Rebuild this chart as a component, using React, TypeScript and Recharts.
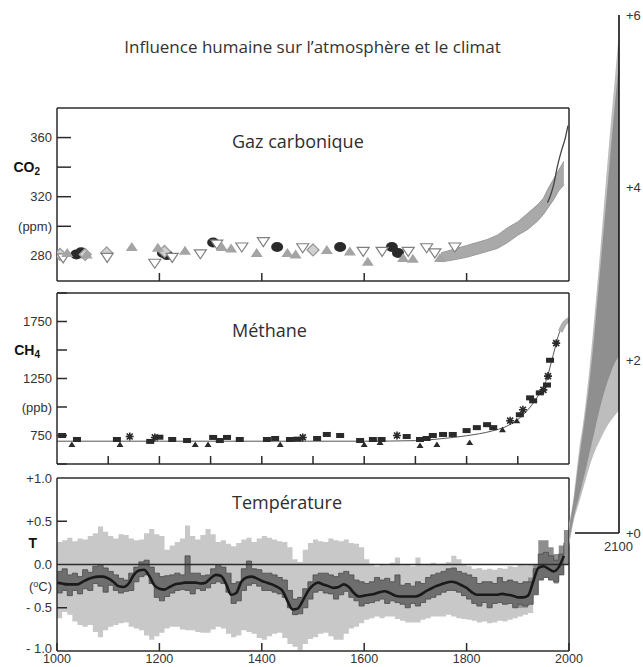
import React from 'react';
import { ComposedChart, Line, Area, Scatter, XAxis, YAxis, ReferenceLine } from 'recharts';

// ---------- CO2 panel (ppm) ----------
const co2GreyTriangles: [number, number][] = [
  [1020, 282], [1058, 281], [1146, 286], [1197, 285.5], [1250, 283.4], [1322, 286], [1340, 285],
  [1390, 282], [1450, 282], [1466, 281], [1527, 284], [1572, 283], [1607, 276], [1676, 278.6],
  [1695, 278], [1748, 278.6],
];
const co2OpenTriangles: [number, number][] = [
  [1012, 278.6], [1098, 279], [1191, 275], [1225, 279], [1280, 281.4], [1312, 288], [1361, 286],
  [1403, 289.6], [1480, 285.5], [1598, 283], [1635, 283], [1686, 283], [1722, 285.5], [1738, 282],
  [1777, 286],
];
const co2Diamonds: [number, number][] = [
  [1006, 281], [1055, 281], [1097, 282], [1210, 283], [1500, 284],
];
const co2DarkBlobs: [number, number][] = [
  [1038, 281], [1047, 282.5], [1207, 282], [1215, 280.5], [1305, 289], [1430, 286], [1553, 286],
  [1654, 286], [1666, 282],
];
const co2BandYears = [1750, 1770, 1800, 1820, 1840, 1860, 1880, 1900, 1920, 1940, 1950, 1960, 1970, 1980, 1990];
const co2BandLow = [276, 277, 279, 281, 283, 285, 289, 294, 298, 304, 308, 313, 318, 324, 328];
const co2BandHigh = [282, 284, 287, 289, 291, 294, 299, 303, 309, 315, 319, 326, 332, 338, 344];
const co2LineYears = [1958, 1965, 1970, 1977, 1986, 1993, 1998];
const co2LineValues = [316, 322, 328, 340, 352, 360, 368];

// ---------- Methane panel (ppb) ----------
const ch4LineYears = [1000, 1200, 1400, 1600, 1700, 1750, 1800, 1850, 1875, 1900, 1918, 1937, 1957, 1969, 1982, 1992, 2000];
const ch4LineValues = [700, 700, 700, 700, 705, 722, 748, 790, 825, 890, 967, 1080, 1254, 1454, 1663, 1750, 1770];
const ch4Instrumental: [number, number][] = [[1983, 1660], [1990, 1725], [1995, 1750], [2000, 1768]];
const ch4Squares: [number, number][] = [
  [1010, 750], [1039, 715], [1117, 715], [1182, 698], [1200, 735], [1225, 715], [1254, 706], [1305, 733],
  [1318, 706], [1332, 733], [1357, 715], [1410, 715], [1426, 724], [1455, 715], [1470, 718], [1508, 724],
  [1527, 759], [1553, 750], [1592, 706], [1617, 715], [1634, 715], [1683, 741], [1709, 715], [1722, 724],
  [1734, 750], [1754, 759], [1773, 759], [1800, 793], [1820, 819], [1840, 845], [1852, 819], [1904, 932],
  [1924, 1080], [1930, 1054], [1943, 1124], [1957, 1193], [1963, 1410],
];
const ch4Triangles: [number, number][] = [
  [1029, 672], [1123, 672], [1270, 672], [1295, 672], [1436, 672], [1600, 672], [1631, 689],
  [1709, 663], [1742, 672], [1806, 689], [1870, 800], [1898, 880],
];
const ch4Stars: [number, number][] = [
  [1142, 741], [1191, 733], [1480, 733], [1664, 750], [1885, 880], [1910, 976], [1950, 1150],
  [1959, 1271], [1975, 1560],
];

// ---------- Temperature panel (°C), one value per decade from 1000 ----------
const tempSmooth = [
  -0.21, -0.22, -0.23, -0.23, -0.23, -0.2, -0.17, -0.15, -0.14, -0.14,
  -0.16, -0.2, -0.25, -0.26, -0.22, -0.12, -0.07, -0.06, -0.13, -0.24,
  -0.28, -0.29, -0.26, -0.23, -0.22, -0.21, -0.21, -0.21, -0.22, -0.21,
  -0.16, -0.12, -0.13, -0.22, -0.35, -0.33, -0.2, -0.15, -0.14, -0.16,
  -0.19, -0.21, -0.23, -0.26, -0.3, -0.42, -0.52, -0.51, -0.42, -0.31,
  -0.24, -0.21, -0.23, -0.25, -0.27, -0.26, -0.23, -0.26, -0.33, -0.37,
  -0.36, -0.35, -0.34, -0.32, -0.31, -0.33, -0.36, -0.37, -0.37, -0.37,
  -0.37, -0.35, -0.31, -0.28, -0.25, -0.23, -0.21, -0.2, -0.21, -0.24,
  -0.27, -0.32, -0.35, -0.35, -0.35, -0.35, -0.35, -0.34, -0.35, -0.36,
  -0.38, -0.38, -0.36, -0.2, -0.04, -0.02, -0.05, -0.08, -0.03, 0.1,
];
const tempAnnualHigh = [
  -0.08, -0.05, -0.12, -0.1, -0.14, -0.06, -0.09, -0.02, 0.0, -0.04,
  -0.08, -0.12, -0.16, -0.18, -0.1, -0.03, 0.03, 0.05, -0.03, -0.1,
  -0.14, -0.13, -0.12, -0.1, -0.12, 0.1, -0.1, -0.1, -0.13, -0.12,
  -0.05, 0.0, -0.03, -0.1, -0.22, -0.2, -0.05, 0.04, -0.05, -0.06,
  -0.1, -0.1, -0.12, -0.15, -0.18, -0.3, -0.4, -0.38, -0.28, -0.2,
  -0.12, -0.1, -0.1, -0.12, -0.14, -0.1, -0.08, -0.12, -0.18, -0.2,
  -0.22, -0.2, -0.15, -0.18, -0.16, -0.2, -0.12, -0.24, -0.22, -0.25,
  -0.2, -0.22, -0.15, -0.12, -0.1, -0.08, -0.05, -0.04, -0.08, -0.1,
  -0.12, -0.15, -0.22, -0.2, -0.2, -0.22, -0.15, -0.2, -0.18, -0.2,
  -0.22, -0.2, -0.2, -0.05, 0.12, 0.14, 0.1, 0.05, 0.12, 0.25,
];
const tempAnnualLow = [
  -0.33, -0.3, -0.36, -0.3, -0.34, -0.28, -0.3, -0.22, -0.25, -0.32,
  -0.24, -0.3, -0.33, -0.31, -0.3, -0.2, -0.14, -0.12, -0.22, -0.38,
  -0.42, -0.37, -0.33, -0.3, -0.29, -0.3, -0.34, -0.28, -0.3, -0.27,
  -0.22, -0.2, -0.22, -0.32, -0.45, -0.42, -0.3, -0.24, -0.22, -0.25,
  -0.3, -0.3, -0.32, -0.34, -0.38, -0.5, -0.58, -0.57, -0.5, -0.4,
  -0.32, -0.3, -0.33, -0.34, -0.4, -0.35, -0.31, -0.38, -0.42, -0.48,
  -0.45, -0.44, -0.42, -0.4, -0.45, -0.42, -0.44, -0.46, -0.5, -0.45,
  -0.48, -0.44, -0.4, -0.38, -0.35, -0.32, -0.3, -0.3, -0.32, -0.36,
  -0.4, -0.45, -0.48, -0.44, -0.5, -0.45, -0.44, -0.46, -0.45, -0.5,
  -0.46, -0.48, -0.46, -0.35, -0.18, -0.15, -0.18, -0.2, -0.12, 0.0,
];
const tempUncertHigh = [
  0.26, 0.28, 0.31, 0.27, 0.3, 0.29, 0.33, 0.36, 0.44, 0.38,
  0.33, 0.3, 0.35, 0.34, 0.3, 0.28, 0.29, 0.36, 0.41, 0.35,
  0.33, 0.17, 0.22, 0.26, 0.3, 0.45, 0.33, 0.29, 0.34, 0.41,
  0.35, 0.26, 0.28, 0.24, 0.21, 0.25, 0.29, 0.31, 0.26, 0.3,
  0.33, 0.31, 0.29, 0.27, 0.26, 0.2, 0.06, 0.03, 0.17, 0.25,
  0.29, 0.27, 0.26, 0.3, 0.28, 0.27, 0.29, 0.25, 0.24, 0.2,
  0.06, 0.01, -0.02, 0.0, -0.01, 0.02, 0.08, -0.01, 0.0, -0.02,
  0.08, -0.01, 0.0, 0.02, 0.0, 0.01, 0.03, 0.1, 0.06, 0.0,
  -0.02, -0.05, -0.04, -0.06, -0.05, -0.06, -0.04, -0.05, -0.02, -0.03,
  0.0, -0.01, 0.0, 0.05,
];
const tempUncertLow = [
  -0.62, -0.55, -0.58, -0.66, -0.7, -0.72, -0.7, -0.78, -0.84, -0.76,
  -0.72, -0.7, -0.68, -0.67, -0.72, -0.74, -0.76, -0.82, -0.87, -0.83,
  -0.79, -0.74, -0.72, -0.72, -0.75, -0.76, -0.76, -0.78, -0.79, -0.79,
  -0.75, -0.72, -0.74, -0.8, -0.84, -0.82, -0.76, -0.78, -0.8, -0.85,
  -0.87, -0.83, -0.8, -0.79, -0.85, -0.92, -0.95, -0.99, -0.92, -0.86,
  -0.84, -0.8, -0.79, -0.83, -0.87, -0.87, -0.8, -0.74, -0.72, -0.68,
  -0.64, -0.62, -0.6, -0.62, -0.6, -0.6, -0.63, -0.65, -0.67, -0.67,
  -0.67, -0.64, -0.62, -0.6, -0.6, -0.6, -0.58, -0.6, -0.62, -0.63,
  -0.64, -0.65, -0.67, -0.66, -0.68, -0.67, -0.65, -0.66, -0.64, -0.62,
  -0.6, -0.58, -0.56, -0.5,
];
const instYears = [1900, 1910, 1920, 1930, 1940, 1950, 1960, 1970, 1980, 1990, 2000];
const instLow = [-0.5, -0.5, -0.45, -0.32, -0.12, -0.12, -0.18, -0.22, -0.1, 0.0, 0.2];
const instHigh = [-0.25, -0.22, -0.15, 0.0, 0.28, 0.28, 0.2, 0.12, 0.22, 0.4, 0.6];

// ---------- Projection to 2100 (°C above present) ----------
const projYears = [2000, 2010, 2020, 2030, 2040, 2050, 2060, 2070, 2080, 2090, 2100];
const projOuterLow = [-0.15, 0.15, 0.35, 0.55, 0.75, 0.92, 1.05, 1.17, 1.27, 1.35, 1.42];
const projOuterHigh = [0.1, 0.45, 0.95, 1.35, 1.85, 2.45, 3.1, 3.8, 4.5, 5.15, 5.8];
const projInnerLow = [-0.1, 0.2, 0.42, 0.65, 0.9, 1.15, 1.4, 1.62, 1.8, 1.95, 2.05];
const projInnerHigh = [0.05, 0.4, 0.85, 1.25, 1.7, 2.25, 2.9, 3.55, 4.2, 4.85, 5.45];

const yearTicks = [1000, 1200, 1400, 1600, 1800, 2000];

const INK = '#2b2b2b';
const LABEL_FONT = '"Liberation Sans", Arial, sans-serif';
const TITLE_FONT = '"Open Sans", "Noto Sans", sans-serif';

const pts = (arr: [number, number][]) => arr.map(([year, v]) => ({ year, v }));
const series = (years: number[], vals: number[]) => years.map((year, i) => ({ year, v: vals[i] }));
const band = (years: number[], lo: number[], hi: number[]) => years.map((year, i) => ({ year, r: [lo[i], hi[i]] }));
const decades = (vals: number[]) => vals.map((_, i) => 1000 + i * 10);

// marker glyphs
const TriUp = (p: any) => (
  <path d={`M${p.cx},${p.cy - 5} L${p.cx + 6},${p.cy + 4} L${p.cx - 6},${p.cy + 4} Z`} fill="#a4a4a4" />
);
const TriDownOpen = (p: any) => (
  <path d={`M${p.cx - 6},${p.cy - 4} L${p.cx + 6},${p.cy - 4} L${p.cx},${p.cy + 5} Z`} fill="#fff" stroke="#808080" strokeWidth={1.2} />
);
const Diamond = (p: any) => (
  <path d={`M${p.cx},${p.cy - 6} L${p.cx + 6},${p.cy} L${p.cx},${p.cy + 6} L${p.cx - 6},${p.cy} Z`} fill="#d0d0d0" stroke="#999" strokeWidth={1.3} />
);
const Blob = (p: any) => <ellipse cx={p.cx} cy={p.cy} rx={6} ry={5} fill="#2a2a2a" />;
const SmallSquare = (p: any) => <rect x={p.cx - 4} y={p.cy - 2.5} width={8} height={5} fill="#2a2a2a" />;
const SmallTri = (p: any) => (
  <path d={`M${p.cx},${p.cy - 3} L${p.cx + 3.5},${p.cy + 2.5} L${p.cx - 3.5},${p.cy + 2.5} Z`} fill="#2a2a2a" />
);
const Star = (p: any) => (
  <path
    d={`M${p.cx - 4},${p.cy} L${p.cx + 4},${p.cy} M${p.cx},${p.cy - 4} L${p.cx},${p.cy + 4} M${p.cx - 3},${p.cy - 3} L${p.cx + 3},${p.cy + 3} M${p.cx - 3},${p.cy + 3} L${p.cx + 3},${p.cy - 3}`}
    stroke="#2a2a2a"
    strokeWidth={1.6}
  />
);

const labelStyle = { fontFamily: LABEL_FONT, fontSize: 13, fill: '#333' };
const noLabel = () => <g />;

const co2Tick = (props: any) => {
  const { x, y, payload } = props;
  const v = payload.value;
  if (v === 340)
    return (
      <text x={x - 12} y={y} dy="0.35em" textAnchor="end" {...labelStyle} fontWeight="bold" fontSize={14} fill="#111">
        CO<tspan dy={3} fontSize={10}>2</tspan>
      </text>
    );
  const label = v === 300 ? '(ppm)' : String(v);
  return (
    <text x={x} y={y} dy="0.35em" textAnchor="end" {...labelStyle}>
      {label}
    </text>
  );
};

const ch4Tick = (props: any) => {
  const { x, y, payload } = props;
  const v = payload.value;
  if (v === 1500)
    return (
      <text x={x - 12} y={y} dy="0.35em" textAnchor="end" {...labelStyle} fontWeight="bold" fontSize={14} fill="#111">
        CH<tspan dy={3} fontSize={10}>4</tspan>
      </text>
    );
  const label = v === 1000 ? '(ppb)' : String(v);
  return (
    <text x={x} y={y} dy="0.35em" textAnchor="end" {...labelStyle}>
      {label}
    </text>
  );
};

const tempTick = (props: any) => {
  const { x, y, payload } = props;
  const v = payload.value;
  if (v === 0.25)
    return (
      <text x={x - 15} y={y} dy="0.35em" textAnchor="end" {...labelStyle} fontWeight="bold" fontSize={14} fill="#111">
        T
      </text>
    );
  if (v === -0.25)
    return (
      <text x={x} y={y} dy="0.35em" textAnchor="end" {...labelStyle}>
        (<tspan dy={-4} fontSize={9}>o</tspan>
        <tspan dy={4}>C)</tspan>
      </text>
    );
  const label = v > 0 ? `+${v.toFixed(1)}` : v < 0 ? `- ${Math.abs(v).toFixed(1)}` : '0.0';
  // the bottom label sits a little higher so it clears the year below
  const lift = v === -1 ? -3 : 0;
  return (
    <text x={x} y={y + lift} dy="0.35em" textAnchor="end" {...labelStyle}>
      {label}
    </text>
  );
};

// the bottom axis is mirrored (inward ticks), so the year label is pushed below the frame
const BOTTOM_TICK = 8;
const BOTTOM_MARGIN = 2;
const yearTickBelow = (props: any) => {
  const { x, y, payload } = props;
  if (!yearTicks.includes(payload.value)) return <g />;
  return (
    <text x={x} y={y + BOTTOM_TICK + BOTTOM_MARGIN + 8} dy="0.35em" textAnchor="middle" {...labelStyle} fontSize={12.5}>
      {payload.value}
    </text>
  );
};

const projTick = (props: any) => {
  const { x, y, payload } = props;
  return (
    <text x={x} y={y} dy="0.35em" textAnchor="start" {...labelStyle}>
      {`+${payload.value}`}
    </text>
  );
};

const frameLine = { stroke: INK, strokeWidth: 1.5 };

// shared frame: inward ticks on all four sides plus a label axis on the left
function frameAxes(
  domain: [number, number], xTicks: number[], yTicks: number[], yLabelTicks: number[], tick: any, ySize: number,
  bottomTicks: number[] = xTicks, bottomTick: any = noLabel,
) {
  return [
    <XAxis key="xb" xAxisId="x" dataKey="year" type="number" domain={[1000, 2000]} allowDataOverflow orientation="bottom" mirror
      ticks={bottomTicks} interval={0} tick={bottomTick} tickSize={BOTTOM_TICK} tickMargin={BOTTOM_MARGIN} tickLine={frameLine} axisLine={frameLine} />,
    <XAxis key="xt" xAxisId="xt" type="number" domain={[1000, 2000]} allowDataOverflow orientation="top" mirror
      ticks={xTicks} interval={0} tick={noLabel} tickSize={9} tickLine={frameLine} axisLine={frameLine} />,
    <YAxis key="y" yAxisId="y" type="number" domain={domain} allowDataOverflow orientation="left" mirror
      ticks={yTicks} interval={0} tick={noLabel} tickSize={ySize} tickLine={frameLine} axisLine={frameLine} />,
    <YAxis key="yr" yAxisId="yr" type="number" domain={domain} allowDataOverflow orientation="right" mirror
      tick={false} tickLine={false} axisLine={frameLine} />,
    <YAxis key="yl" yAxisId="yl" type="number" domain={domain} allowDataOverflow orientation="left" width={50}
      ticks={yLabelTicks} interval={0} tick={tick} tickLine={false} axisLine={false} tickSize={0} tickMargin={5} />,
  ];
}

const abs = (top: number): React.CSSProperties => ({ position: 'absolute', left: 0, top });
const titleStyle = (top: number): React.CSSProperties => ({
  position: 'absolute', left: 232, top, fontFamily: TITLE_FONT, fontSize: 18, lineHeight: 1, color: '#2e2e2e', whiteSpace: 'nowrap',
});

export default function App() {
  const tYears = decades(tempSmooth);
  const uYears = decades(tempUncertHigh);
  return (
    <div style={{ position: 'absolute', left: 0, top: 0, width: 643, height: 667, background: '#fff', overflow: 'hidden' }}>
      <div style={{ position: 'absolute', left: 0, top: 38, width: 625, textAlign: 'center', fontFamily: TITLE_FONT, fontSize: 17, lineHeight: 1, color: '#333' }}>
        Influence humaine sur l’atmosphère et le climat
      </div>

      {/* CO2 */}
      <div style={abs(100)}>
        <ComposedChart width={643} height={190} margin={{ top: 8, right: 74, bottom: 9, left: 7 }}>
          {frameAxes([263, 380], [1200, 1400, 1600, 1800], [280, 300, 320, 340, 360], [280, 300, 320, 340, 360], co2Tick, 14)}
          <Area xAxisId="x" yAxisId="y" data={band(co2BandYears, co2BandLow, co2BandHigh)} dataKey="r" type="linear"
            stroke="#9a9a9a" strokeWidth={1} fill="#a9a9a9" fillOpacity={1} isAnimationActive={false} />
          <Line xAxisId="x" yAxisId="y" data={series(co2LineYears, co2LineValues)} dataKey="v" type="monotone"
            stroke="#444" strokeWidth={1.3} dot={false} isAnimationActive={false} />
          <Scatter xAxisId="x" yAxisId="y" data={pts(co2DarkBlobs)} dataKey="v" shape={Blob} isAnimationActive={false} />
          <Scatter xAxisId="x" yAxisId="y" data={pts(co2Diamonds)} dataKey="v" shape={Diamond} isAnimationActive={false} />
          <Scatter xAxisId="x" yAxisId="y" data={pts(co2OpenTriangles)} dataKey="v" shape={TriDownOpen} isAnimationActive={false} />
          <Scatter xAxisId="x" yAxisId="y" data={pts(co2GreyTriangles)} dataKey="v" shape={TriUp} isAnimationActive={false} />
        </ComposedChart>
      </div>
      <div style={titleStyle(132)}>Gaz carbonique</div>

      {/* Methane */}
      <div style={abs(285)}>
        <ComposedChart width={643} height={190} margin={{ top: 8, right: 74, bottom: 11, left: 7 }}>
          {frameAxes([500, 2000], [1100, 1200, 1300, 1400, 1500, 1600, 1700, 1800, 1900], [500, 750, 1000, 1250, 1500, 1750, 2000],
            [750, 1000, 1250, 1500, 1750], ch4Tick, 10)}
          <Line xAxisId="x" yAxisId="y" data={series(ch4LineYears, ch4LineValues)} dataKey="v" type="monotone"
            stroke="#555" strokeWidth={1} dot={false} isAnimationActive={false} />
          <Line xAxisId="x" yAxisId="y" data={pts(ch4Instrumental)} dataKey="v" type="monotone"
            stroke="#b0b0b0" strokeWidth={5} dot={false} isAnimationActive={false} />
          <Scatter xAxisId="x" yAxisId="y" data={pts(ch4Squares)} dataKey="v" shape={SmallSquare} isAnimationActive={false} />
          <Scatter xAxisId="x" yAxisId="y" data={pts(ch4Triangles)} dataKey="v" shape={SmallTri} isAnimationActive={false} />
          <Scatter xAxisId="x" yAxisId="y" data={pts(ch4Stars)} dataKey="v" shape={Star} isAnimationActive={false} />
        </ComposedChart>
      </div>
      <div style={titleStyle(321)}>Méthane</div>

      {/* Temperature */}
      <div style={abs(470)}>
        <ComposedChart width={643} height={197} margin={{ top: 8, right: 74, bottom: 16, left: 7 }}>
          {frameAxes([-1, 1], [1200, 1400, 1600, 1800], [-0.5, 0.5], [-1, -0.5, -0.25, 0, 0.25, 0.5, 1], tempTick, 10,
            yearTicks, yearTickBelow)}
          <Area xAxisId="x" yAxisId="y" data={band(uYears, tempUncertLow, tempUncertHigh)} dataKey="r" type="stepAfter"
            stroke="none" fill="#c8c8c8" fillOpacity={1} isAnimationActive={false} />
          <Area xAxisId="x" yAxisId="y" data={band(instYears, instLow, instHigh)} dataKey="r" type="stepAfter"
            stroke="none" fill="#8e8e8e" fillOpacity={1} isAnimationActive={false} />
          <Area xAxisId="x" yAxisId="y" data={band(tYears, tempAnnualLow, tempAnnualHigh)} dataKey="r" type="stepAfter"
            stroke="#4a4a4a" strokeWidth={0.8} fill="#6e6e6e" fillOpacity={1} isAnimationActive={false} />
          <ReferenceLine xAxisId="x" yAxisId="y" y={0} stroke={INK} strokeWidth={1.3} />
          <Line xAxisId="x" yAxisId="y" data={series(tYears, tempSmooth)} dataKey="v" type="monotone"
            stroke="#1a1a1a" strokeWidth={2.6} dot={false} isAnimationActive={false} />
        </ComposedChart>
      </div>
      <div style={titleStyle(493)}>Température</div>

      {/* Projection to 2100 */}
      <div style={abs(0)}>
        <ComposedChart width={643} height={667} margin={{ top: 15, right: 0, bottom: 47.7, left: 569 }}>
          <XAxis xAxisId="p" dataKey="year" type="number" domain={[2000, 2100]} allowDataOverflow hide />
          <YAxis yAxisId="p" type="number" domain={[-1, 6]} allowDataOverflow hide />
          <YAxis yAxisId="pl" type="number" domain={[-1, 6]} allowDataOverflow orientation="right" width={24}
            ticks={[0, 2, 4, 6]} interval={0} tick={projTick} tickLine={false} axisLine={false} tickSize={0} tickMargin={7} />
          <Area xAxisId="p" yAxisId="p" data={band(projYears, projOuterLow, projOuterHigh)} dataKey="r" type="monotone"
            stroke="none" fill="#bdbdbd" fillOpacity={1} isAnimationActive={false} />
          <Area xAxisId="p" yAxisId="p" data={band(projYears, projInnerLow, projInnerHigh)} dataKey="r" type="monotone"
            stroke="none" fill="#8f8f8f" fillOpacity={1} isAnimationActive={false} />
          <ReferenceLine xAxisId="p" yAxisId="p" segment={[{ x: 2100, y: 0 }, { x: 2100, y: 6 }]} stroke="#111" strokeWidth={1.6} ifOverflow="visible" />
          <ReferenceLine xAxisId="p" yAxisId="p" segment={[{ x: 2012, y: 0 }, { x: 2100, y: 0 }]} stroke="#111" strokeWidth={1.6} ifOverflow="visible" />
        </ComposedChart>
      </div>
      <div style={{ position: 'absolute', left: 604, top: 540, fontFamily: LABEL_FONT, fontSize: 13, lineHeight: 1, color: '#333' }}>2100</div>
    </div>
  );
}
